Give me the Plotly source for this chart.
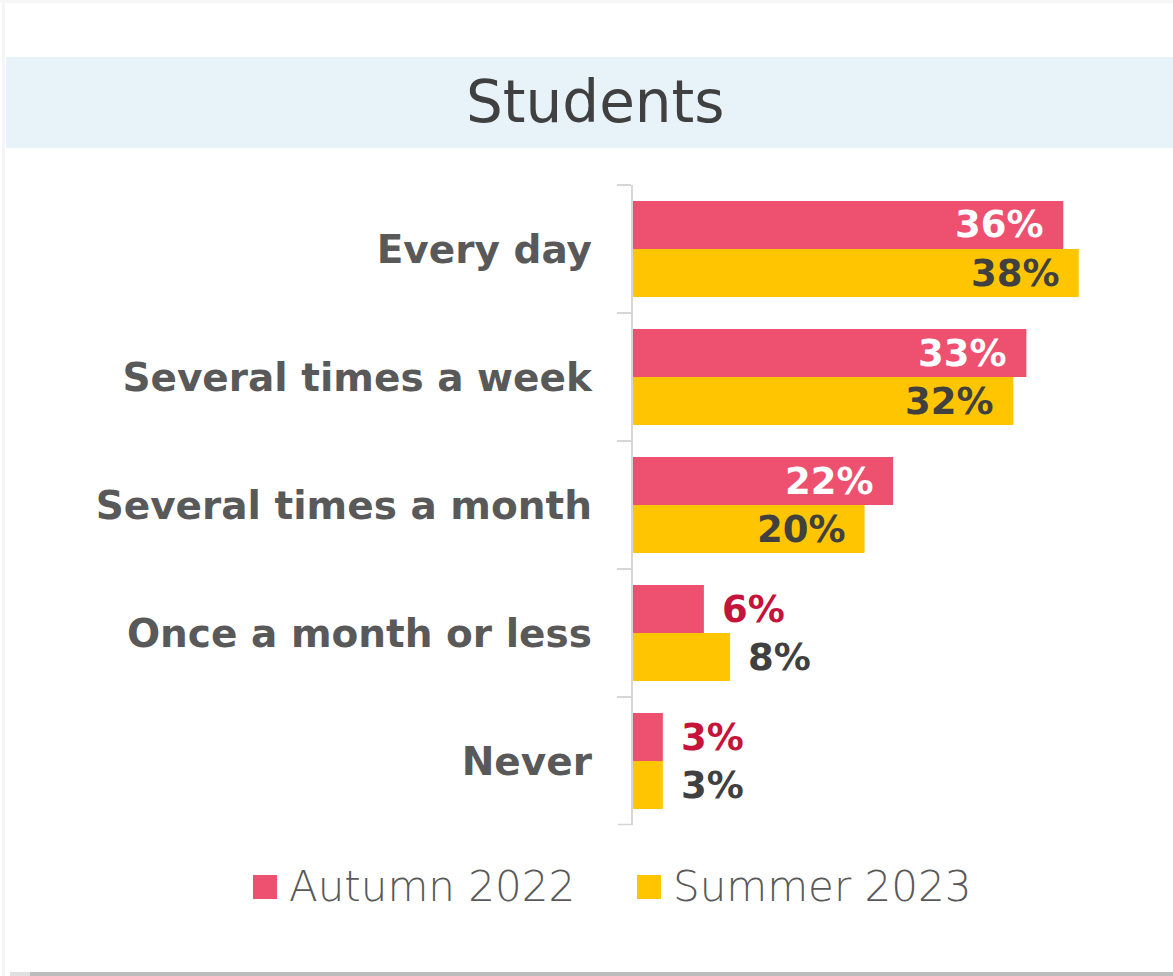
import plotly.graph_objects as go

# ---- data ----
title_text = "Students"
categories = ["Every day", "Several times a week", "Several times a month",
              "Once a month or less", "Never"]
series_names = ["Autumn 2022", "Summer 2023"]
autumn_2022 = [36.2, 33.1, 21.9, 6.0, 2.55]
summer_2023 = [37.5, 32.0, 19.5, 8.2, 2.55]
autumn_labels = ["36%", "33%", "22%", "6%", "3%"]
summer_labels = ["38%", "32%", "20%", "8%", "3%"]

# ---- style ----
W, H = 1173, 976
PINK = "#EE5070"
YELLOW = "#FFC600"
CRIMSON = "#C4143A"
DARK = "#404040"
GREY_TXT = "#595959"
AXIS_GREY = "#D6D6D6"
FONT = "DejaVu Sans"

def px_x(x):
    return x / W

def px_y(y):
    return 1 - y / H

x0_px = 632.5
px_per_unit = 11.9
x_max = (W - x0_px) / px_per_unit

fig = go.Figure()
series = [
    (series_names[0], autumn_2022, autumn_labels, PINK, "white", CRIMSON, 24),
    (series_names[1], summer_2023, summer_labels, YELLOW, DARK, DARK, -24),
]
for name, vals, labs, col, in_col, out_col, ysh in series:
    fig.add_trace(go.Bar(
        y=categories, x=vals, name=name, orientation="h",
        marker=dict(color=col, line=dict(width=0)),
        hoverinfo="skip", showlegend=False,
    ))
    for cat, v, lab in zip(categories, vals, labs):
        inside = v > 15
        fig.add_annotation(
            x=v, y=cat, xref="x", yref="y", text=lab, showarrow=False,
            xanchor="right" if inside else "left",
            xshift=-17 if inside else 16, yshift=ysh, yanchor="middle",
            font=dict(family=FONT, size=37, weight="bold",
                      color=in_col if inside else out_col),
        )

shapes = [
    # faint card edges
    dict(type="rect", xref="paper", yref="paper", x0=0, x1=1, y0=px_y(3), y1=1,
         fillcolor="#F7F7F7", line=dict(width=0), layer="below"),
    dict(type="rect", xref="paper", yref="paper", x0=px_x(2), x1=px_x(5), y0=0, y1=px_y(3),
         fillcolor="#F5F5F5", line=dict(width=0), layer="below"),
    dict(type="rect", xref="paper", yref="paper", x0=px_x(10), x1=px_x(30), y0=0, y1=px_y(972),
         fillcolor="#E0E0E0", line=dict(width=0), layer="below"),
    dict(type="rect", xref="paper", yref="paper", x0=px_x(30), x1=1, y0=0, y1=px_y(972),
         fillcolor="#BDBDBD", line=dict(width=0), layer="below"),
    # title band
    dict(type="rect", xref="paper", yref="paper", x0=px_x(6), x1=1,
         y0=px_y(148), y1=px_y(57),
         fillcolor="#E8F3F9", line=dict(width=0), layer="below"),
    # closing tick at the bottom boundary of the category axis
    dict(type="line", xref="paper", yref="paper", x0=px_x(618), x1=px_x(632.5),
         y0=px_y(824.5), y1=px_y(824.5), line=dict(color=AXIS_GREY, width=1.5)),
]

# custom legend
leg_items = [(series_names[0], PINK, 253, 287), (series_names[1], YELLOW, 637, 671)]
for name, col, sx, tx in leg_items:
    shapes.append(dict(type="rect", xref="paper", yref="paper",
                       x0=px_x(sx), x1=px_x(sx + 24), y0=px_y(899), y1=px_y(875),
                       fillcolor=col, line=dict(width=0)))
    fig.add_annotation(x=px_x(tx), y=px_y(886), xref="paper", yref="paper",
                       text=name, showarrow=False, xanchor="left", yanchor="middle",
                       font=dict(family=FONT, size=42, weight=300, color=GREY_TXT))

fig.add_annotation(x=px_x(595), y=px_y(102), xref="paper", yref="paper",
                   text=title_text, showarrow=False, xanchor="center", yanchor="middle",
                   font=dict(family=FONT, size=58, color=DARK))

fig.update_layout(
    width=W, height=H,
    margin=dict(l=0, r=0, t=0, b=0),
    paper_bgcolor="white", plot_bgcolor="white",
    barmode="group", bargap=0.25, bargroupgap=0,
    shapes=shapes,
    showlegend=False,
    xaxis=dict(domain=[px_x(x0_px), 1], range=[0, x_max], visible=False,
               showgrid=False, zeroline=False, fixedrange=True),
    yaxis=dict(domain=[px_y(825), px_y(185)], range=[4.5, -0.5],
               type="category", categoryorder="array", categoryarray=categories,
               showline=True, linecolor=AXIS_GREY, linewidth=1.5,
               ticks="outside", tickson="boundaries", ticklen=14,
               tickcolor=AXIS_GREY, tickwidth=1.5,
               ticklabelstandoff=31,
               tickfont=dict(family=FONT, size=39, weight="bold", color=GREY_TXT),
               showgrid=False, zeroline=False, automargin=False, fixedrange=True),
)

fig.write_html("out.html", config={"displayModeBar": False},
               post_script="document.body.style.margin='0';document.body.style.overflow='hidden';")
